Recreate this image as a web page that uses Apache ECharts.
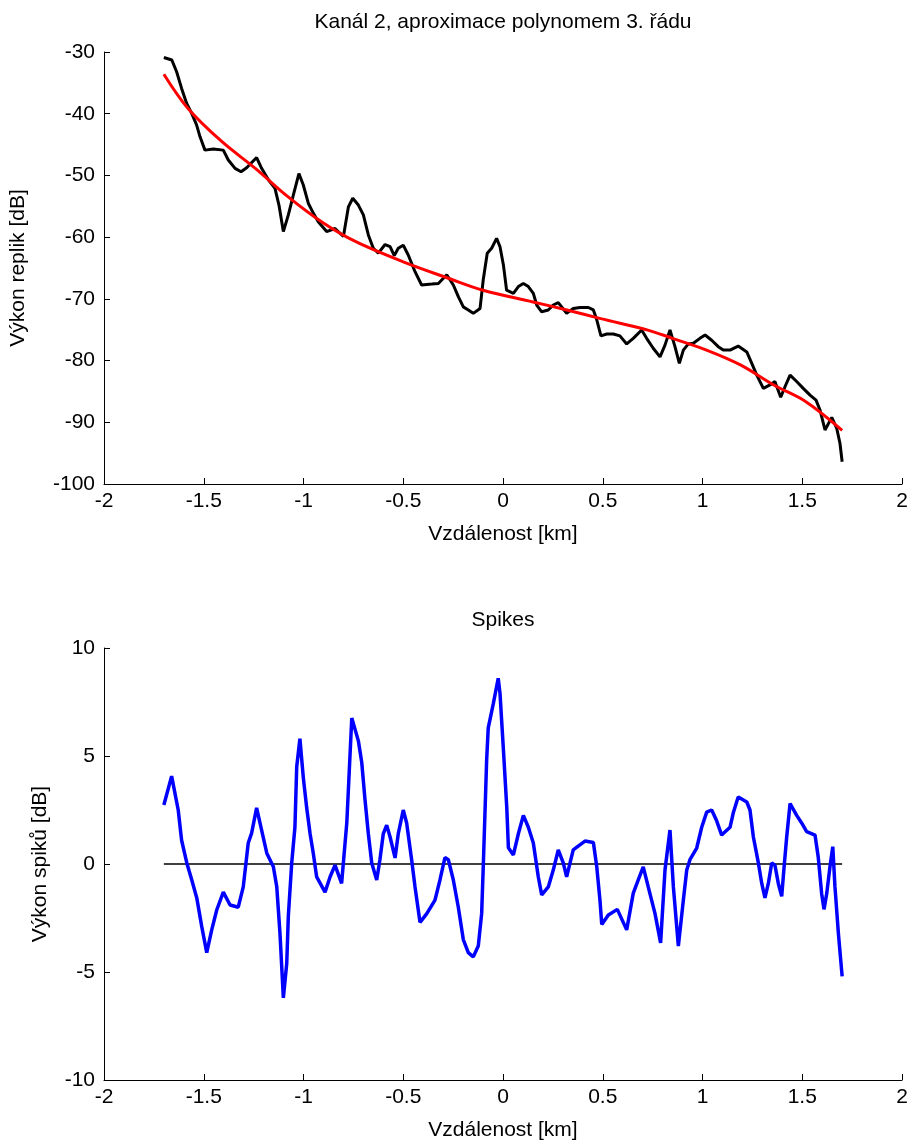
<!DOCTYPE html>
<html>
<head>
<meta charset="utf-8">
<title>Kanál 2 – výkon replik a spiky</title>
<script src="https://cdn.jsdelivr.net/npm/echarts@6/dist/echarts.min.js"></script>
<style>
  html, body { margin: 0; padding: 0; background: #fff; }
  #chart { width: 911px; height: 1146px; }
</style>
</head>
<body>
<div id="chart"></div>
<script>
// Naměřený výkon replik (černá čára) – vzdálenost [km], výkon [dB]
const measDist = [
  -1.700, -1.660, -1.636, -1.611, -1.586, -1.561, -1.536, -1.519, -1.494, -1.452,
  -1.402, -1.377, -1.343, -1.313, -1.285, -1.235, -1.210, -1.176, -1.143, -1.123,
  -1.101, -1.076, -1.051, -1.023, -1.001, -0.976, -0.951, -0.926, -0.884, -0.842,
  -0.800, -0.775, -0.753, -0.725, -0.700, -0.675, -0.650, -0.625, -0.591, -0.566,
  -0.545, -0.525, -0.500, -0.475, -0.441, -0.408, -0.357, -0.324, -0.282, -0.249,
  -0.224, -0.199, -0.174, -0.149, -0.115, -0.099, -0.079, -0.057, -0.032, -0.015,
   0.002,  0.018,  0.052,  0.077,  0.102,  0.127,  0.152,  0.169,  0.194,  0.227,
   0.252,  0.277,  0.294,  0.319,  0.352,  0.386,  0.428,  0.453,  0.470,  0.491,
   0.520,  0.553,  0.586,  0.620,  0.653,  0.695,  0.720,  0.753,  0.787,  0.812,
   0.837,  0.862,  0.884,  0.904,  0.929,  0.954,  0.987,  1.013,  1.046,  1.079,
   1.104,  1.138,  1.179,  1.222,  1.247,  1.272,  1.305,  1.338,  1.363,  1.392,
   1.414,  1.439,  1.472,  1.505,  1.539,  1.569,  1.589,  1.614,  1.648,  1.673,
   1.689,  1.700
];
const measDb = [
  -30.9, -31.3, -33.2, -35.9, -38.3, -39.9, -41.8, -43.7, -45.9, -45.7,
  -45.9, -47.5, -48.85, -49.4, -48.75, -47.1, -48.85, -50.7, -52.1, -54.8,
  -59.1, -56.4, -53.2, -49.7, -51.55, -54.5, -56.1, -57.5, -59.1, -58.6,
  -59.9, -55.1, -53.7, -54.8, -56.4, -59.65, -61.8, -62.6, -61.2, -61.55,
  -63.0, -61.8, -61.3, -62.9, -65.6, -67.75, -67.6, -67.5, -66.1, -67.75,
  -69.65, -71.3, -71.8, -72.35, -71.55, -66.9, -62.6, -61.8, -60.2, -61.55,
  -64.5, -68.6, -69.1, -68.0, -67.5, -68.0, -69.1, -71.0, -72.1, -71.8,
  -71.0, -70.6, -71.3, -72.35, -71.55, -71.4, -71.4, -71.8, -73.4, -76.0,
  -75.7, -75.7, -76.0, -77.3, -76.4, -75.05, -76.4, -78.0, -79.4, -77.5,
  -75.05, -77.75, -80.45, -78.3, -77.3, -77.2, -76.4, -75.85, -76.7, -77.75,
  -78.3, -78.3, -77.65, -78.6, -80.45, -82.35, -84.5, -83.95, -83.4, -85.95,
  -84.2, -82.35, -83.4, -84.5, -85.6, -86.4, -88.0, -91.25, -89.2, -91.0,
  -93.4, -96.4
];

// Aproximace polynomem 3. řádu (červená křivka)
const fitDist = [
  -1.70, -1.58, -1.41, -1.24, -1.08, -0.91, -0.74, -0.50, -0.27, -0.10,
   0.15,  0.32,  0.49,  0.73,  0.85,  1.02,  1.19,  1.36,  1.52,  1.70
];
const fitDb = [
  -33.6, -39.1, -44.5, -48.9, -53.4, -57.5, -60.7, -64.0, -66.7, -68.6,
  -70.5, -71.8, -73.2, -75.1, -76.4, -78.3, -80.7, -84.0, -86.7, -91.3
];

// Spiky – odchylka měření od aproximace [dB]
const spikeDist = [
  -1.700, -1.661, -1.628, -1.611, -1.585, -1.560, -1.535, -1.510, -1.485, -1.460,
  -1.435, -1.402, -1.368, -1.327, -1.302, -1.277, -1.260, -1.235, -1.210, -1.184,
  -1.151, -1.134, -1.118, -1.101, -1.084, -1.076, -1.059, -1.043, -1.034, -1.018,
  -1.001, -0.984, -0.967, -0.951, -0.934, -0.892, -0.867, -0.842, -0.809, -0.783,
  -0.758, -0.725, -0.708, -0.692, -0.675, -0.658, -0.633, -0.617, -0.600, -0.583,
  -0.566, -0.541, -0.525, -0.500, -0.483, -0.458, -0.441, -0.416, -0.382, -0.341,
  -0.316, -0.291, -0.274, -0.249, -0.224, -0.199, -0.174, -0.149, -0.124, -0.107,
  -0.099, -0.082, -0.074, -0.049, -0.024, -0.015,  0.002,  0.019,  0.027,  0.052,
   0.077,  0.102,  0.127,  0.152,  0.177,  0.194,  0.227,  0.252,  0.277,  0.302,
   0.319,  0.352,  0.377,  0.411,  0.453,  0.470,  0.486,  0.495,  0.528,  0.573,
   0.620,  0.653,  0.678,  0.703,  0.728,  0.762,  0.790,  0.812,  0.837,  0.854,
   0.879,  0.904,  0.921,  0.937,  0.971,  0.996,  1.021,  1.046,  1.071,  1.096,
   1.138,  1.154,  1.179,  1.222,  1.238,  1.255,  1.280,  1.297,  1.313,  1.330,
   1.347,  1.363,  1.380,  1.397,  1.409,  1.422,  1.439,  1.472,  1.497,  1.522,
   1.564,  1.580,  1.597,  1.609,  1.623,  1.639,  1.653,  1.664,  1.681,  1.700
];
const spikeDb = [
   2.73,  4.07,  2.5,   1.1,   0.05, -0.74, -1.57, -2.9,  -4.1,  -3.05,
  -2.13, -1.3,  -1.9,  -2.0,  -1.06,  0.97,  1.43,  2.6,   1.57,  0.5,
  -0.13, -1.06, -3.2,  -6.2,  -4.6,  -2.4,   0.05,  1.7,   4.5,   5.8,
   4.0,   2.6,   1.4,   0.5,  -0.6,  -1.3,  -0.6,  -0.05, -0.9,   1.9,
   6.76,  5.7,   4.7,   3.0,   1.4,   0.05, -0.74,  0.2,   1.4,   1.8,
   1.25,  0.28,  1.4,   2.5,   1.9,   0.2,  -1.06, -2.7,  -2.3,  -1.67,
  -0.74,  0.3,   0.2,  -0.74, -2.0,  -3.5,  -4.1,  -4.3,  -3.8,  -2.3,
  -0.13,  4.8,   6.3,   7.4,   8.6,   7.9,   5.3,   2.6,   0.75,  0.42,
   1.4,   2.25,  1.7,   0.97, -0.6,  -1.43, -1.06, -0.28,  0.65,  0.05,
  -0.6,   0.65,  0.83,  1.06,  1.0,  -0.13, -1.67, -2.8,  -2.36, -2.1,
  -3.05, -1.35, -0.74, -0.13, -1.06, -2.3,  -3.65, -0.28,  1.57, -1.06,
  -3.8,  -1.67, -0.28,  0.2,   0.74,  1.7,   2.4,   2.5,   2.0,   1.34,
   1.7,   2.36,  3.1,   2.87,  2.5,   1.25,  0.05, -0.9,  -1.57, -0.9,
   0.05, -0.05, -0.9,  -1.5,  -0.13,  1.25,  2.8,   2.25,  1.9,   1.5,
   1.34,  0.33, -1.35, -2.1,  -1.35, -0.13,  0.8,  -1.06, -3.2,  -5.2
];

// Nulová úroveň pod spiky
const zeroDist = [-1.7, 1.7];
const zeroDb = [0, 0];

// Rozsahy a kroky os
const xRange = [-2, 2], xStep = 0.5;
const replikRange = [-100, -30], replikStep = 10;
const spikeRange = [-10, 10], spikeStep = 5;

const pairs = (xs, ys) => xs.map((x, i) => [x, ys[i]]);

const FONT = "'Liberation Sans', Arial, Helvetica, sans-serif";
const FS = 21;
const INK = '#000';

function xAxisFor(gridIndex) {
  return {
    type: 'value', gridIndex,
    min: xRange[0], max: xRange[1], interval: xStep,
    name: 'Vzdálenost [km]', nameLocation: 'middle', nameGap: 40,
    nameTextStyle: { color: INK, fontFamily: FONT, fontSize: FS },
    axisLine: { show: true, onZero: false, lineStyle: { color: INK, width: 1 } },
    axisTick: { show: true, inside: true, length: 6, lineStyle: { color: INK, width: 1 } },
    axisLabel: { color: INK, fontFamily: FONT, fontSize: FS, margin: 7 },
    splitLine: { show: false }
  };
}
function yAxisFor(gridIndex, range, step, name, gap) {
  return {
    type: 'value', gridIndex,
    min: range[0], max: range[1], interval: step,
    name, nameLocation: 'middle', nameGap: gap, nameRotate: 90,
    nameTextStyle: { color: INK, fontFamily: FONT, fontSize: FS },
    axisLine: { show: true, onZero: false, lineStyle: { color: INK, width: 1 } },
    axisTick: { show: true, inside: true, length: 6, lineStyle: { color: INK, width: 1 } },
    axisLabel: { color: INK, fontFamily: FONT, fontSize: FS, margin: 9 },
    splitLine: { show: false }
  };
}

const chart = echarts.init(document.getElementById('chart'), null, { renderer: 'canvas' });
chart.setOption({
  backgroundColor: '#fff',
  animation: false,
  textStyle: { fontFamily: FONT },
  grid: [
    { left: 104, width: 798, top: 52, height: 432, outerBoundsMode: 'none', containLabel: false },
    { left: 104, width: 798, top: 648, height: 432, outerBoundsMode: 'none', containLabel: false }
  ],
  xAxis: [xAxisFor(0), xAxisFor(1)],
  yAxis: [
    yAxisFor(0, replikRange, replikStep, 'Výkon replik [dB]', 75),
    yAxisFor(1, spikeRange, spikeStep, 'Výkon spiků [dB]', 53)
  ],
  graphic: [
    { type: 'text', x: 503, y: 22,
      style: { text: 'Kanál 2, aproximace polynomem 3. řádu', align: 'center', verticalAlign: 'middle',
               fill: INK, font: FS + 'px ' + FONT } },
    { type: 'text', x: 503, y: 620,
      style: { text: 'Spikes', align: 'center', verticalAlign: 'middle',
               fill: INK, font: FS + 'px ' + FONT } }
  ],
  series: [
    {
      name: 'měření', type: 'line', xAxisIndex: 0, yAxisIndex: 0,
      data: pairs(measDist, measDb), showSymbol: false, symbol: 'none',
      lineStyle: { color: '#000', width: 3 }, z: 2
    },
    {
      name: 'aproximace', type: 'line', xAxisIndex: 0, yAxisIndex: 0,
      data: pairs(fitDist, fitDb), showSymbol: false, symbol: 'none', smooth: 0.35,
      lineStyle: { color: '#ff0000', width: 3 }, z: 3
    },
    {
      name: 'nula', type: 'line', xAxisIndex: 1, yAxisIndex: 1,
      data: pairs(zeroDist, zeroDb), showSymbol: false, symbol: 'none',
      lineStyle: { color: '#000', width: 1.5 }, z: 2
    },
    {
      name: 'spiky', type: 'line', xAxisIndex: 1, yAxisIndex: 1,
      data: pairs(spikeDist, spikeDb), showSymbol: false, symbol: 'none',
      lineStyle: { color: '#0000ff', width: 3.5 }, z: 3
    }
  ]
});
</script>
</body>
</html>
